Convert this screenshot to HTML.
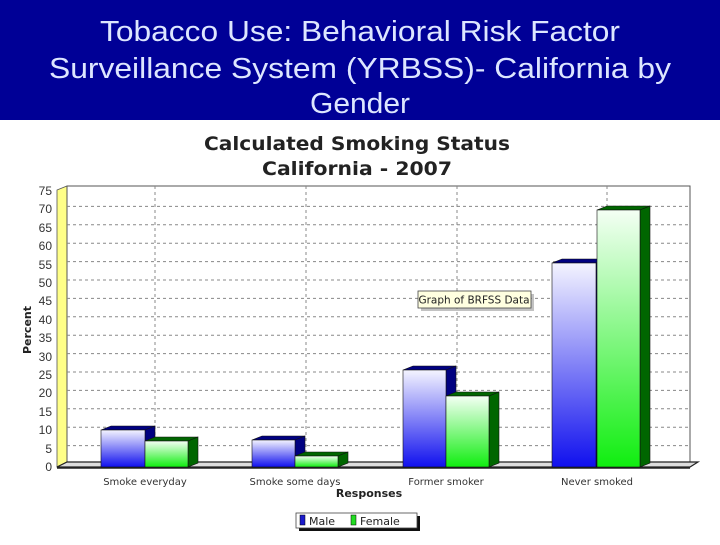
<!DOCTYPE html>
<html><head><meta charset="utf-8"><style>
body{margin:0;width:720px;height:540px;overflow:hidden;background:#fff;font-family:"Liberation Sans",sans-serif}
</style></head><body>
<svg width="720" height="540" xmlns="http://www.w3.org/2000/svg">
<defs>
<linearGradient id="gb" x1="0" y1="0" x2="0" y2="1"><stop offset="0" stop-color="#f4f4ff"/><stop offset="1" stop-color="#1010ee"/></linearGradient>
<linearGradient id="gg" x1="0" y1="0" x2="0" y2="1"><stop offset="0" stop-color="#f4fff4"/><stop offset="1" stop-color="#10ee10"/></linearGradient>
</defs>
<rect x="0" y="0" width="720" height="120" fill="#000096"/>
<g fill="#dde6ff" font-family="Liberation Sans, sans-serif" font-size="29" text-anchor="middle">
<text x="360" y="41" textLength="520" lengthAdjust="spacingAndGlyphs">Tobacco Use: Behavioral Risk Factor</text>
<text x="360" y="78" textLength="622" lengthAdjust="spacingAndGlyphs">Surveillance System (YRBSS)- California by</text>
<text x="360" y="113" textLength="100" lengthAdjust="spacingAndGlyphs">Gender</text>
</g>
<g font-family="DejaVu Sans, sans-serif" font-weight="bold" font-size="19" text-anchor="middle" fill="#222">
<text x="357" y="150" textLength="306" lengthAdjust="spacingAndGlyphs">Calculated Smoking Status</text>
<text x="357" y="175" textLength="190" lengthAdjust="spacingAndGlyphs">California - 2007</text>
</g>
<polygon points="57,190 67,186 67,462 57,467" fill="#ffff88" stroke="#555" stroke-width="0.8"/>
<rect x="67" y="186" width="623" height="276" fill="#fff" stroke="#555" stroke-width="1"/>
<g stroke="#888" stroke-dasharray="3,3" stroke-width="1">
<line x1="67" x2="690" y1="206.4" y2="206.4"/><line x1="67" x2="690" y1="224.8" y2="224.8"/>
<line x1="67" x2="690" y1="243.2" y2="243.2"/><line x1="67" x2="690" y1="261.6" y2="261.6"/>
<line x1="67" x2="690" y1="280" y2="280"/><line x1="67" x2="690" y1="298.4" y2="298.4"/>
<line x1="67" x2="690" y1="316.8" y2="316.8"/><line x1="67" x2="690" y1="335.2" y2="335.2"/>
<line x1="67" x2="690" y1="353.6" y2="353.6"/><line x1="67" x2="690" y1="372" y2="372"/>
<line x1="67" x2="690" y1="390.4" y2="390.4"/><line x1="67" x2="690" y1="408.8" y2="408.8"/>
<line x1="67" x2="690" y1="427.2" y2="427.2"/><line x1="67" x2="690" y1="445.6" y2="445.6"/>
<line x1="155" x2="155" y1="186" y2="462"/><line x1="306" x2="306" y1="186" y2="462"/>
<line x1="457" x2="457" y1="186" y2="462"/><line x1="607" x2="607" y1="186" y2="462"/>
</g>
<polygon points="57,467 67,462 698,462 690,467" fill="#ddd" stroke="#222" stroke-width="1.2"/>
<line x1="57" y1="468" x2="690" y2="468" stroke="#222" stroke-width="1.5"/>
<g font-size="12" fill="#333" text-anchor="end" font-family="Liberation Sans, sans-serif">
<text x="52" y="471">0</text><text x="52" y="453">5</text><text x="52" y="434">10</text><text x="52" y="416">15</text>
<text x="52" y="397">20</text><text x="52" y="379">25</text><text x="52" y="361">30</text><text x="52" y="342">35</text>
<text x="52" y="324">40</text><text x="52" y="305">45</text><text x="52" y="287">50</text><text x="52" y="269">55</text>
<text x="52" y="250">60</text><text x="52" y="232">65</text><text x="52" y="213">70</text><text x="52" y="195">75</text>
</g>
<text transform="translate(31,330) rotate(-90)" font-size="11" font-weight="bold" font-family="DejaVu Sans, sans-serif" text-anchor="middle" fill="#222">Percent</text>
<g stroke="#111" stroke-width="0.6">
<polygon points="101,430 111,426 155,426 145,430" fill="#000080"/><polygon points="145,430 155,426 155,463 145,467" fill="#000080"/><rect x="101" y="430" width="44" height="37" fill="url(#gb)"/>
<polygon points="145,441 155,437 198,437 188,441" fill="#006600"/><polygon points="188,441 198,437 198,463 188,467" fill="#006600"/><rect x="145" y="441" width="43" height="26" fill="url(#gg)"/>
<polygon points="252,440 262,436 305,436 295,440" fill="#000080"/><polygon points="295,440 305,436 305,463 295,467" fill="#000080"/><rect x="252" y="440" width="43" height="27" fill="url(#gb)"/>
<polygon points="295,456 305,452 348,452 338,456" fill="#006600"/><polygon points="338,456 348,452 348,463 338,467" fill="#006600"/><rect x="295" y="456" width="43" height="11" fill="url(#gg)"/>
<polygon points="403,370 413,366 456,366 446,370" fill="#000080"/><polygon points="446,370 456,366 456,463 446,467" fill="#000080"/><rect x="403" y="370" width="43" height="97" fill="url(#gb)"/>
<polygon points="446,396 456,392 499,392 489,396" fill="#006600"/><polygon points="489,396 499,392 499,463 489,467" fill="#006600"/><rect x="446" y="396" width="43" height="71" fill="url(#gg)"/>
<polygon points="552,263 562,259 606,259 596,263" fill="#000080"/><polygon points="596,263 606,259 606,463 596,467" fill="#000080"/><rect x="552" y="263" width="44" height="204" fill="url(#gb)"/>
<polygon points="597,210 607,206 650,206 640,210" fill="#006600"/><polygon points="640,210 650,206 650,463 640,467" fill="#006600"/><rect x="597" y="210" width="43" height="257" fill="url(#gg)"/>
</g>
<rect x="421" y="294" width="113" height="17" fill="#999" opacity="0.6"/>
<rect x="418" y="291" width="113" height="17" fill="#ffffe0" stroke="#444" stroke-width="0.8"/>
<text x="474" y="303.5" font-size="10.5" text-anchor="middle" font-family="DejaVu Sans, sans-serif" fill="#222">Graph of BRFSS Data</text>
<g font-size="10" fill="#333" text-anchor="middle" font-family="DejaVu Sans, sans-serif">
<text x="145" y="485">Smoke everyday</text><text x="295" y="485">Smoke some days</text>
<text x="446" y="485">Former smoker</text><text x="597" y="485">Never smoked</text>
</g>
<text x="369" y="497" font-size="11" font-weight="bold" text-anchor="middle" font-family="DejaVu Sans, sans-serif" fill="#222">Responses</text>
<rect x="299" y="516" width="121" height="15" fill="#111"/>
<rect x="296" y="513" width="121" height="15" fill="#fff" stroke="#444" stroke-width="0.8"/>
<rect x="300" y="515" width="5" height="10" fill="#1a1acc" stroke="#000" stroke-width="0.5"/>
<text x="309" y="525" font-size="11" font-family="DejaVu Sans, sans-serif" fill="#222">Male</text>
<rect x="351" y="515" width="5" height="10" fill="#22dd22" stroke="#000" stroke-width="0.5"/>
<text x="360" y="525" font-size="11" font-family="DejaVu Sans, sans-serif" fill="#222">Female</text>
</svg>
</body></html>
